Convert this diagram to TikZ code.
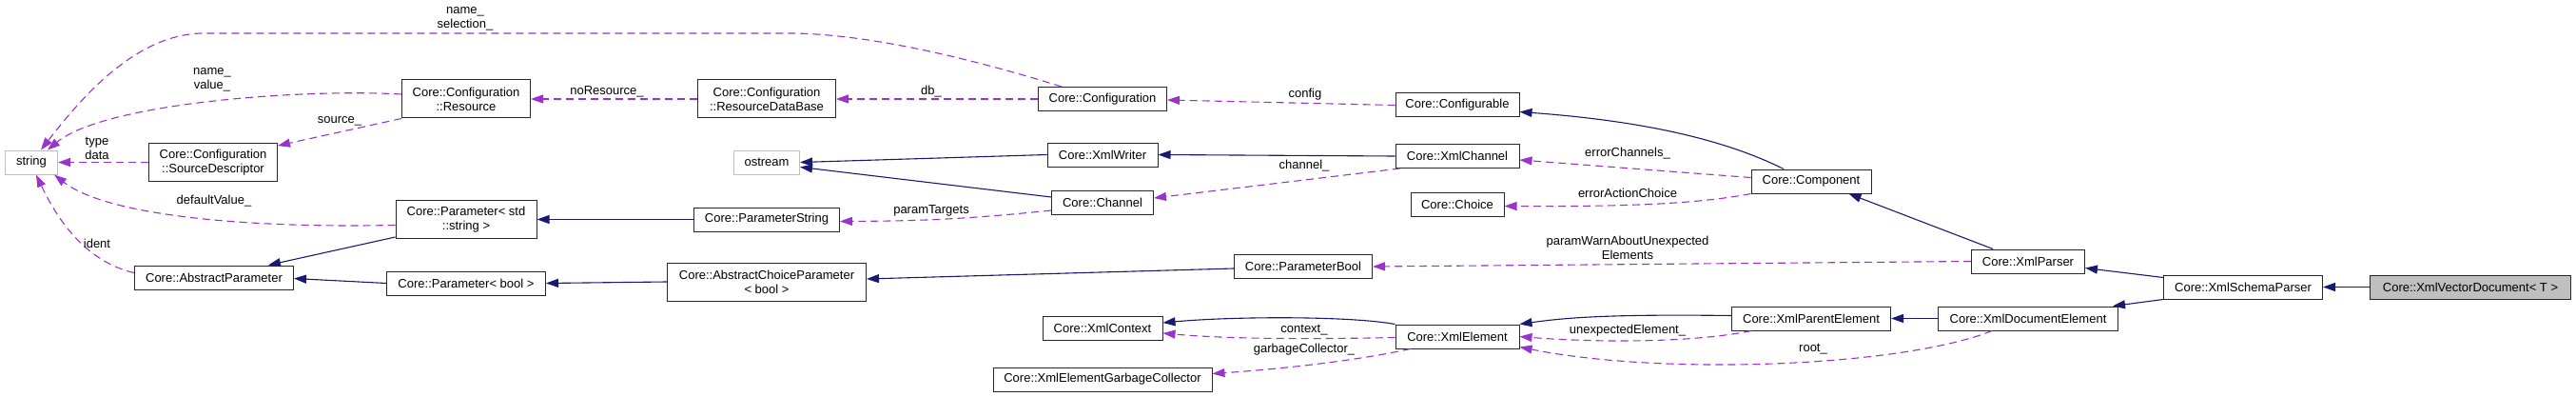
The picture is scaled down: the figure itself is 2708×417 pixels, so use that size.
\documentclass[tikz,border=0pt]{standalone}
\usepackage{fontspec}
\setmainfont{Liberation Sans}
\usepackage{tikz}
\usetikzlibrary{arrows.meta, calc}
\definecolor{navy}{HTML}{191970}
\definecolor{orchid}{HTML}{9A32CD}
\definecolor{grigio}{HTML}{BFBFBF}

\begin{document}
\begin{tikzpicture}[x=1pt, y=-1pt, >={Triangle[length=13pt, width=9pt]}, font=\fontsize{13}{15}\selectfont]
    % Stili
    \tikzstyle{cls} = [draw=black!85, line width=1pt, rectangle, align=center, inner xsep=6pt, inner ysep=5pt, minimum height=25pt]
    \tikzstyle{duo} = [minimum height=40pt]
    \tikzstyle{extcls} = [cls, draw=grigio]
    \tikzstyle{focus} = [cls, fill=grigio]
    \tikzstyle{eredita} = [->, draw=navy, line width=1.1pt]
    \tikzstyle{uso} = [->, draw=orchid, line width=1.1pt, dash pattern=on 8pt off 5pt]
    \tikzstyle{lbl} = [align=center, inner sep=0pt]

    \useasboundingbox (0,0) rectangle (2708,417);

    % Classi
    \node [extcls, minimum width=55pt] (string) at (33,170.5) {string};
    \node [cls, duo, minimum width=135pt, right of=string, node distance=191pt] (sourcedesc) {Core::Configuration\\::SourceDescriptor};
    \node [cls, duo, minimum width=135pt] (resource) at (490,104) {Core::Configuration\\::Resource};
    \node [cls, duo, minimum width=148pt] (pstring) at (490,230.5) {Core::Parameter< std\\::string >};
    \node [cls, minimum width=167pt] (abspar) at (225,291.5) {Core::AbstractParameter};
    \node [cls, minimum width=167pt] (pbool) at (490,297.5) {Core::Parameter< bool >};
    \node [cls, duo, minimum width=145pt, right of=resource, node distance=316pt] (resdb) {Core::Configuration\\::ResourceDataBase};
    \node [extcls, minimum width=69pt] (ostream) at (806,170.5) {ostream};
    \node [cls, minimum width=153pt, right of=pstring, node distance=316pt] (paramstring) {Core::ParameterString};
    \node [cls, duo, minimum width=209pt] (abschoice) at (806,296) {Core::AbstractChoiceParameter\\< bool >};
    \node [cls, minimum width=135pt, right of=resdb, node distance=353pt] (config) {Core::Configuration};
    \node [cls, minimum width=116pt] (xmlwriter) at (1159,162.5) {Core::XmlWriter};
    \node [cls, minimum width=107pt] (channel) at (1159,213) {Core::Channel};
    \node [cls, minimum width=126pt] (xmlcontext) at (1159,345) {Core::XmlContext};
    \node [cls, minimum width=230pt] (garbage) at (1159,398.5) {Core::XmlElementGarbageCollector};
    \node [cls, minimum width=145pt] (parambool) at (1370,280) {Core::ParameterBool};
    \node [cls, minimum width=130pt] (configurable) at (1532,110.5) {Core::Configurable};
    \node [cls, minimum width=130pt] (xmlchannel) at (1532,164) {Core::XmlChannel};
    \node [cls, minimum width=98pt] (choice) at (1532,214.5) {Core::Choice};
    \node [cls, minimum width=130pt] (xmlelement) at (1532,353.5) {Core::XmlElement};
    \node [cls, minimum width=126pt] (component) at (1904,190.5) {Core::Component};
    \node [cls, minimum width=167pt] (xmlparent) at (1904,334.5) {Core::XmlParentElement};
    \node [cls, minimum width=189pt, right of=xmlparent, node distance=228pt] (xmldocel) {Core::XmlDocumentElement};
    \node [cls, minimum width=119pt] (xmlparser) at (2132,274.5) {Core::XmlParser};
    \node [cls, minimum width=167pt] (schema) at (2358,301.5) {Core::XmlSchemaParser};
    \node [focus, minimum width=211pt, right of=schema, node distance=239pt] (vecdoc) {Core::XmlVectorDocument< T >};

    % Ereditarieta'
    \draw [eredita] (xmlwriter.west) -- (ostream.east);
    \draw [eredita] ($(channel.west)+(0,-6)$) -- ($(ostream.east)+(0,5)$);
    \draw [eredita] (xmlchannel.west) -- (xmlwriter.east);
    \draw [eredita] ($(component.north)+(-29,0)$) .. controls (1800,140) and (1700,125) .. ($(configurable.east)+(0,7)$);
    \draw [eredita] ($(xmlparser.north)+(-37,0)$) -- ($(component.south east)+(-24,0)$);
    \draw [eredita] ($(schema.west)+(0,-10)$) -- ($(xmlparser.east)+(0,7)$);
    \draw [eredita] (schema.south west) -- ($(xmldocel.north east)+(-6,0)$);
    \draw [eredita] (vecdoc.west) -- (schema.east);
    \draw [eredita] (xmldocel.west) -- (xmlparent.east);
    \draw [eredita] ($(xmlparent.west)+(0,-3)$) .. controls (1700,330) and (1650,333) .. (xmlelement.north east);
    \draw [eredita] (xmlelement.north west) .. controls (1420,332) and (1300,332) .. ($(xmlcontext.east)+(0,-6)$);
    \draw [eredita] (paramstring.west) -- (pstring.east);
    \draw [eredita] ($(pstring.south west)+(0,-2)$) -- ($(abspar.north east)+(-27,0)$);
    \draw [eredita] (pbool.west) -- ($(abspar.east)+(0,1)$);
    \draw [eredita] (abschoice.west) -- (pbool.east);
    \draw [eredita] ($(parambool.west)+(0,2)$) -- ($(abschoice.east)+(0,-3)$);

    % Relazioni d'uso
    \draw [uso] ($(config.north west)+(25,0)$) .. controls (1000,55) and (900,35) .. (829,35) -- (214,35) .. controls (140,35) and (80,110) .. ($(string.north)+(10,0)$);
    \draw [uso] ($(resource.west)+(0,-5)$) .. controls (320,93) and (110,108) .. ($(string.north)+(17,0)$);
    \draw [uso] (sourcedesc.west) -- (string.east);
    \draw [uso] ($(pstring.west)+(0,6)$) .. controls (250,240) and (110,225) .. ($(string.south east)+(-4,0)$);
    \draw [uso] ($(abspar.west)+(0,-5)$) .. controls (90,275) and (60,230) .. ($(string.south)+(5,0)$);
    \draw [uso] (resource.south west) -- ($(sourcedesc.north east)+(0,3)$);
    \draw [uso] (resdb.west) -- (resource.east);
    \draw [uso] (config.west) -- (resdb.east);
    \draw [uso] (configurable.west) -- ($(config.east)+(0,1)$);
    \draw [uso] ($(xmlchannel.south west)+(5,0)$) -- ($(channel.east)+(0,-5)$);
    \draw [uso] ($(channel.west)+(0,8)$) .. controls (1000,232) and (950,232) .. ($(paramstring.east)+(0,2)$);
    \draw [uso] ($(component.west)+(0,-4)$) -- ($(xmlchannel.east)+(0,4)$);
    \draw [uso] (component.south west) .. controls (1780,215) and (1700,217) .. ($(choice.east)+(0,2)$);
    \draw [uso] (xmlparser.west) -- (parambool.east);
    \draw [uso] ($(xmlelement.west)+(0,1)$) .. controls (1350,357) and (1280,355) .. ($(xmlcontext.east)+(0,5)$);
    \draw [uso] ($(xmlelement.south west)+(16,0)$) .. controls (1420,380) and (1340,388) .. ($(garbage.east)+(0,-6)$);
    \draw [uso] ($(xmlparent.south west)+(21,0)$) .. controls (1780,360) and (1680,360) .. (xmlelement.east);
    \draw [uso] ($(xmldocel.south)+(-38,0)$) .. controls (2000,385) and (1750,395) .. ($(xmlelement.south east)+(0,-2)$);

    % Etichette
    \node [lbl] (lselection) at (489,20) {name\_\\selection\_};
    \node [lbl] (lvalue) at (223,84) {name\_\\value\_};
    \node [lbl] (lsource) at (357,127) {source\_};
    \node [lbl] (ltype) at (102,156) {type\\data};
    \node [lbl] (ldefault) at (225,211) {defaultValue\_};
    \node [lbl] (lident) at (102,256) {ident};
    \node [lbl] (lnores) at (638,96) {noResource\_};
    \node [lbl] (ldb) at (979,96) {db\_};
    \node [lbl] (lconfig) at (1372,99) {config};
    \node [lbl] (lchannel) at (1371,174) {channel\_};
    \node [lbl] (ltargets) at (979,221) {paramTargets};
    \node [lbl] (lerrch) at (1711,161) {errorChannels\_};
    \node [lbl] (lerract) at (1711,203) {errorActionChoice};
    \node [lbl] (lwarn) at (1711,260) {paramWarnAboutUnexpected\\Elements};
    \node [lbl] (lcontext) at (1371,347) {context\_};
    \node [lbl] (lgarbage) at (1371,367) {garbageCollector\_};
    \node [lbl] (lunexp) at (1711,347) {unexpectedElement\_};
    \node [lbl] (lroot) at (1906,367) {root\_};
\end{tikzpicture}
\end{document}
